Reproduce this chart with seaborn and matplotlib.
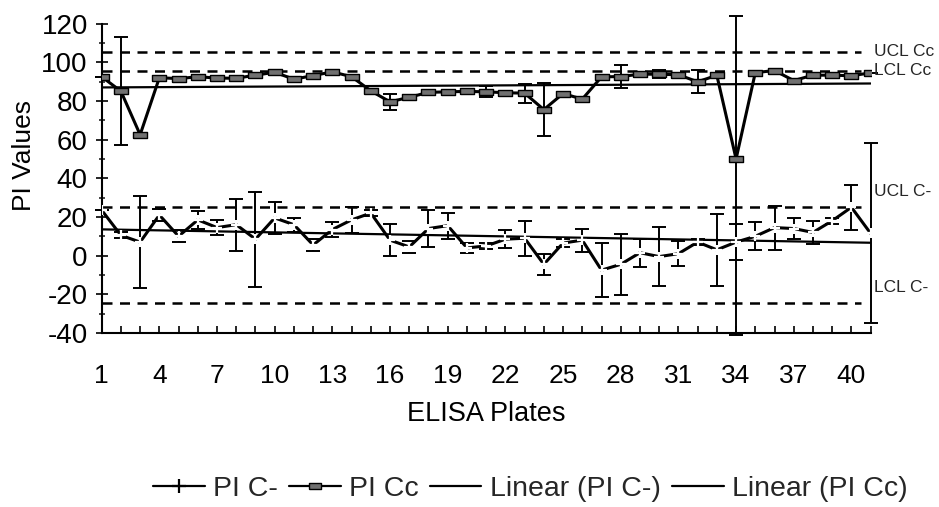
import numpy as np
import pandas as pd
import matplotlib
matplotlib.use("Agg")
import matplotlib.pyplot as plt
from matplotlib.lines import Line2D
from matplotlib.ticker import FixedLocator, MultipleLocator
import seaborn as sns

# ELISA plate numbers
plates = list(range(1, 42))

# Percent inhibition of the negative control (PI C-) and its spread
pi_cneg = [23.5, 10.5, 7.0, 21.0, 10.0, 18.5, 14.5, 16.0, 8.5, 19.5,
           16.0, 5.5, 13.5, 18.5, 22.0, 8.0, 4.5, 14.0, 15.5, 4.0,
           5.0, 8.5, 9.0, -4.5, 6.5, 8.0, -7.5, -4.5, 1.5, -0.5,
           1.0, 7.0, 3.0, 7.0, 10.0, 14.5, 14.0, 12.0, 18.0, 25.0, 11.5]
err_cneg = [0.0, 1.5, 23.8, 3.0, 3.0, 4.7, 4.0, 13.4, 24.6, 8.4,
            3.6, 3.0, 3.8, 6.9, 1.5, 8.2, 2.9, 9.7, 6.7, 2.5,
            1.7, 4.6, 9.0, 5.5, 2.0, 5.9, 14.0, 15.9, 7.2, 15.2,
            6.6, 1.5, 18.7, 9.5, 7.2, 11.4, 5.2, 6.0, 1.5, 11.6, 46.5]

# Percent inhibition of the strong positive control (PI Cc) and its spread
pi_cc = [92.5, 85.0, 62.5, 92.0, 91.5, 92.5, 91.8, 91.7, 93.3, 94.8,
         91.2, 93.1, 95.0, 92.5, 85.2, 79.5, 81.9, 84.4, 84.7, 84.9,
         84.7, 84.2, 84.0, 75.5, 83.8, 80.9, 92.4, 92.6, 93.8, 93.8,
         93.5, 89.9, 93.2, 50.0, 94.6, 95.7, 90.5, 93.3, 93.3, 93.0, 94.5]
err_cc_low = [0, 28.0, 0, 0, 0, 0, 0, 0, 0, 0,
              0, 0, 0, 0, 0, 4.0, 0, 0, 0, 0,
              2.8, 0, 4.9, 13.5, 0, 0, 0, 6.0, 0, 2.2,
              0, 6.0, 0, 91.0, 0, 0, 0, 0, 0, 0, 0]
err_cc_high = [0, 28.0, 0, 0, 0, 0, 0, 0, 0, 0,
               0, 0, 0, 0, 0, 4.0, 0, 0, 0, 0,
               2.8, 0, 4.9, 13.5, 0, 0, 0, 6.0, 0, 2.2,
               0, 6.0, 0, 74.0, 0, 0, 0, 0, 0, 0, 0]

# Control limits
limit_names = ["UCL Cc", "LCL Cc", "UCL C-", "LCL C-"]
limit_values = [105.5, 95.5, 25.0, -24.5]

tick_labels = [str(p) for p in plates[::3]]

df = pd.DataFrame({"plate": plates, "PI C-": pi_cneg, "PI Cc": pi_cc})

sns.set_theme(style="white")
plt.rcParams["font.family"] = ["Liberation Sans", "DejaVu Sans"]
plt.rcParams["axes.unicode_minus"] = False

fig = plt.figure(figsize=(9.39, 5.07), dpi=100)
ax = fig.add_axes([0.1083, 0.3432, 0.8189, 0.6104])

# Rectangular marker for the PI Cc series
rect = [(-1.0, -0.5), (1.0, -0.5), (1.0, 0.5), (-1.0, 0.5), (-1.0, -0.5)]

# Control limit lines
for name, val in zip(limit_names, limit_values):
    ax.hlines(val, plates[0], plates[-1] - 0.5, colors="black", lw=1.8,
              linestyles=(0, (4, 3)), zorder=1)

# Linear trend lines
sns.regplot(data=df, x="plate", y="PI C-", scatter=False, ci=None, ax=ax,
            color="black", line_kws=dict(lw=1.6, zorder=2))
sns.regplot(data=df, x="plate", y="PI Cc", scatter=False, ci=None, ax=ax,
            color="black", line_kws=dict(lw=1.6, zorder=2))

# Error bars
ax.errorbar(plates, pi_cneg, yerr=err_cneg, fmt="none", ecolor="black",
            elinewidth=1.4, capsize=5, capthick=1.4, zorder=3, clip_on=False)
ax.errorbar(plates, pi_cc, yerr=[err_cc_low, err_cc_high], fmt="none",
            ecolor="black", elinewidth=1.4, capsize=5, capthick=1.4,
            zorder=3, clip_on=False)

# Data series
sns.lineplot(data=df, x="plate", y="PI C-", ax=ax, color="black", lw=2.2,
             marker="+", markersize=7, markeredgewidth=1.6, zorder=4)
sns.lineplot(data=df, x="plate", y="PI Cc", ax=ax, color="black", lw=2.2,
             marker=rect, markersize=10, markerfacecolor="#707070",
             markeredgecolor="black", markeredgewidth=1.0, zorder=5)

# Control limit labels to the right of the plot
label_offsets = [0, 0, 8, 8]
for name, val, off in zip(limit_names, limit_values, label_offsets):
    ax.text(plates[-1] + 0.2, val + off, name, fontsize=12.5, va="center",
            ha="left", clip_on=False)

ax.set_xlim(plates[0], plates[-1])
ax.set_ylim(-40, 120)
ax.xaxis.set_major_locator(FixedLocator(plates[::3]))
ax.set_xticklabels(tick_labels)
ax.xaxis.set_minor_locator(MultipleLocator(1))
ax.yaxis.set_major_locator(MultipleLocator(20))
ax.yaxis.set_minor_locator(MultipleLocator(10))
ax.tick_params(axis="x", which="both", direction="in", length=5, width=1.2,
               colors="black", labelsize=19, pad=22, bottom=True)
ax.tick_params(axis="y", which="major", direction="inout", length=8, width=1.2,
               colors="black", labelsize=20, pad=6, left=True)
ax.tick_params(axis="y", which="minor", direction="inout", length=5, width=1.2,
               left=True)

for side in ("top", "right"):
    ax.spines[side].set_visible(False)
for side in ("left", "bottom"):
    ax.spines[side].set_color("black")
    ax.spines[side].set_linewidth(1.5)

ax.set_xlabel("ELISA Plates", fontsize=19.5, labelpad=10, color="black")
ax.set_ylabel("PI Values", fontsize=19, color="black")
ax.yaxis.set_label_coords(-0.086, 0.575)

handles = [
    Line2D([], [], color="black", lw=1.6, marker="+", markersize=10,
           markeredgewidth=1.6),
    Line2D([], [], color="black", lw=1.6, marker=rect, markersize=9,
           markerfacecolor="#707070", markeredgecolor="black",
           markeredgewidth=1.0),
    Line2D([], [], color="black", lw=1.6),
    Line2D([], [], color="black", lw=1.6),
]
fig.legend(handles, ["PI C-", "PI Cc", "Linear (PI C-)", "Linear (PI Cc)"],
           loc="center", bbox_to_anchor=(0.565, 0.035), ncol=4, frameon=False,
           fontsize=20.5, handlelength=1.8, handletextpad=0.3,
           columnspacing=0.4)

fig.savefig("out.png", dpi=100, facecolor="white")
